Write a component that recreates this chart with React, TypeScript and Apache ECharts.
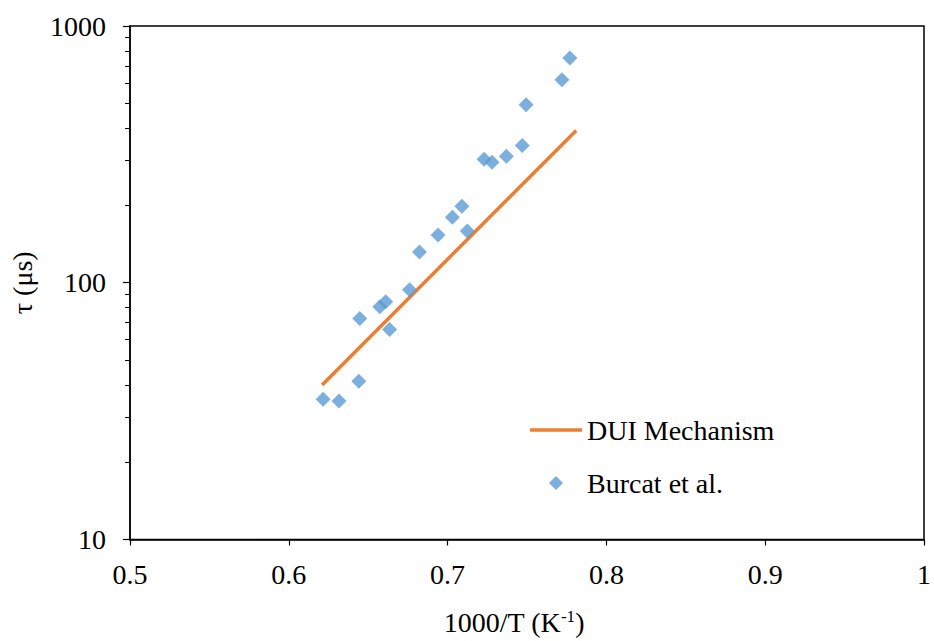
import React, { useEffect, useRef } from "react";
import * as echarts from "echarts";

const burcatX = [0.6216, 0.6316, 0.6441, 0.6447, 0.6573, 0.661, 0.6635, 0.676, 0.6823, 0.694, 0.703, 0.709, 0.7124, 0.723, 0.728, 0.737, 0.747, 0.7494, 0.772, 0.777];
const burcatTau = [35.2, 34.6, 41.3, 72.5, 80.7, 84.4, 65.7, 94, 131.9, 153.5, 180, 198.8, 159, 302.5, 294.5, 310.7, 342.6, 494, 617, 751];
const duiX = [0.621, 0.781];
const duiTau = [40.0, 392];
const yMajorTicks = [10, 100, 1000];
const yMinorTicks = [20, 30, 40, 50, 60, 70, 80, 90, 200, 300, 400, 500, 600, 700, 800, 900];

const FONT = "Liberation Serif";
const FS = 28;

export default function App() {
  const ref = useRef<HTMLDivElement>(null);
  useEffect(() => {
    if (!ref.current) return;
    const chart = echarts.init(ref.current, null, { renderer: "svg" });
    chart.setOption({
      animation: false,
      backgroundColor: "#ffffff",
      textStyle: { fontFamily: FONT },
      grid: { left: 130, right: 6, top: 26, bottom: 99, containLabel: false, show: true, borderColor: "#000", borderWidth: 1.5, backgroundColor: "transparent" },
      legend: {
        orient: "vertical",
        left: 530,
        top: 416,
        padding: 0,
        itemWidth: 52,
        itemHeight: 14,
        itemGap: 25,
        symbolKeepAspect: true,
        textStyle: { fontFamily: FONT, fontSize: FS, color: "#000" },
        data: [
          { name: "DUI Mechanism", icon: "path://M0,0 L52,0 L52,3.5 L0,3.5 Z" },
          { name: "Burcat et al.", icon: "path://M0,-1 L1,0 L0,1 L-1,0 Z" },
        ],
      },
      xAxis: {
        type: "value",
        min: 0.5,
        max: 1,
        interval: 0.1,
        name: "1000/T (K{sup|-1})",
        nameLocation: "middle",
        nameGap: 68,
        nameTextStyle: {
          fontFamily: FONT,
          fontSize: FS,
          color: "#000",
          padding: [0, 26, 0, 0],
          rich: { sup: { fontFamily: FONT, fontSize: 17, color: "#000", verticalAlign: "top", padding: [0, 0, 12, 0] } },
        },
        axisLine: { show: true, lineStyle: { color: "#000", width: 1.5 } },
        axisTick: { show: true, inside: false, length: 6, lineStyle: { color: "#000", width: 1.2 } },
        axisLabel: { fontFamily: FONT, fontSize: FS, color: "#000", margin: 21 },
        splitLine: { show: false },
      },
      yAxis: [
        {
          type: "log",
          logBase: 10,
          min: 10,
          max: 1000,
          name: "τ (μs)",
          nameLocation: "middle",
          nameGap: 94,
          nameTextStyle: { fontFamily: FONT, fontSize: FS, color: "#000" },
          axisLine: { show: true, lineStyle: { color: "#000", width: 1.5 } },
          axisTick: { show: true, inside: false, length: 7, customValues: yMajorTicks, lineStyle: { color: "#000", width: 1.2 } },
          axisLabel: { fontFamily: FONT, fontSize: FS, color: "#000", margin: 24, customValues: yMajorTicks, formatter: (v: number) => String(v) },
          splitLine: { show: false },
          minorTick: { show: false },
        },
        {
          type: "log",
          logBase: 10,
          min: 10,
          max: 1000,
          position: "left",
          axisLine: { show: false },
          axisTick: { show: true, inside: false, length: 5, customValues: yMinorTicks, lineStyle: { color: "#000", width: 1 } },
          axisLabel: { show: false },
          splitLine: { show: false },
        },
      ],
      series: [
        {
          name: "DUI Mechanism",
          type: "line",
          symbol: "none",
          data: duiX.map((x, i) => [x, duiTau[i]]),
          lineStyle: { color: "#ED7D31", width: 3.5 },
          itemStyle: { color: "#ED7D31" },
          z: 2,
        },
        {
          name: "Burcat et al.",
          type: "scatter",
          symbol: "diamond",
          symbolSize: 15,
          data: burcatX.map((x, i) => [x, burcatTau[i]]),
          itemStyle: { color: "#5B9BD5" },
          z: 3,
        },
      ],
    });
    return () => chart.dispose();
  }, []);
  return (
    <div
      ref={ref}
      style={{ position: "fixed", left: 0, top: 0, width: 934, height: 641, background: "#fff" }}
    />
  );
}
